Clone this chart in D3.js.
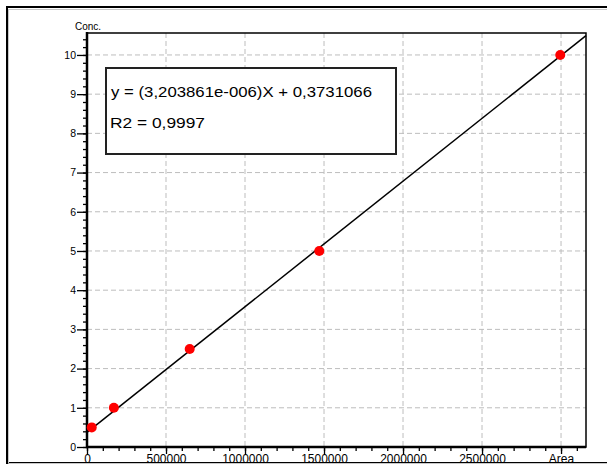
<!DOCTYPE html>
<html>
<head>
<meta charset="utf-8">
<script src="https://cdn.jsdelivr.net/npm/d3@7"></script>
<style>
  body { margin: 0; background: #fff; }
  svg { display: block; }
  text { font-family: "Liberation Sans", Arial, sans-serif; fill: #000; }
</style>
</head>
<body>
<svg width="607" height="466"></svg>
<script>
// calibration points
var areas = [30000, 170000, 650000, 1470000, 2995000];
var concs = [0.5, 1, 2.5, 5, 10];
var slope = 3.203861e-6, intercept = 0.3731066;
var xTicks = [0, 500000, 1000000, 1500000, 2000000, 2500000];
var yTicks = [0, 1, 2, 3, 4, 5, 6, 7, 8, 9, 10];
var eqLines = ["y = (3,203861e-006)X + 0,3731066", "R2 = 0,9997"];

var svg = d3.select("svg"),
  margin = {top: 33, right: 21, bottom: 19, left: 87},
  width = +svg.attr("width") - margin.left - margin.right,
  height = +svg.attr("height") - margin.top - margin.bottom;

// outer panel frame
svg.append("rect").attr("x", 7).attr("y", 7).attr("width", 640).attr("height", 456)
  .attr("fill", "none").attr("stroke", "#000").attr("stroke-width", 2);
svg.append("path").attr("d", "M9,9.5H607M8.5,9V463.5H607")
  .attr("fill", "none").attr("stroke", "#c8c8c8");

var g = svg.append("g").attr("transform", "translate(" + margin.left + "," + margin.top + ")");

var x = d3.scaleLinear().domain([0, 3158000]).range([0, width]);
var y = d3.scaleLinear().domain([0, 10.56]).range([height, 0]);

// dashed grid
g.append("g").selectAll("line").data(xTicks.slice(1).concat([3000000])).enter().append("line")
  .attr("x1", d => x(d)).attr("x2", d => x(d)).attr("y1", 0).attr("y2", height)
  .attr("stroke", "#bdbdbd").attr("stroke-dasharray", "5,3");
g.append("g").selectAll("line").data(yTicks.slice(1)).enter().append("line")
  .attr("y1", d => y(d)).attr("y2", d => y(d)).attr("x1", 0).attr("x2", width)
  .attr("stroke", "#bdbdbd").attr("stroke-dasharray", "5,3");

// frame of plot area
g.append("rect").attr("width", width).attr("height", height)
  .attr("fill", "none").attr("stroke", "#000").attr("stroke-width", 1.5);

// x axis: minor + major ticks
var xAxisMinor = d3.axisBottom(x).tickValues(d3.range(0, 3150001, 100000))
  .tickSize(4).tickFormat("");
var xAxisMajor = d3.axisBottom(x).tickValues(xTicks.concat([3000000])).tickSize(7)
  .tickFormat(d => d === 3000000 ? "Area" : d);
var gxm = g.append("g").attr("transform", "translate(0," + height + ")").call(xAxisMinor);
var gx = g.append("g").attr("transform", "translate(0," + height + ")").call(xAxisMajor);
[gxm, gx].forEach(a => { a.select(".domain").remove(); a.selectAll("line").attr("stroke", "#000").attr("stroke-width", 1.3); });
gx.selectAll("text").attr("y", 7).attr("font-size", 12).style("font-family", "Liberation Sans, Arial, sans-serif");

// y axis: minor + major ticks
var yAxisMinor = d3.axisLeft(y).tickValues(d3.range(0, 10.41, 0.2)).tickSize(4).tickFormat("");
var yAxisMajor = d3.axisLeft(y).tickValues(yTicks).tickSize(10).tickFormat(d => d);
var gym = g.append("g").call(yAxisMinor);
var gy = g.append("g").call(yAxisMajor);
[gym, gy].forEach(a => { a.select(".domain").remove(); a.selectAll("line").attr("stroke", "#000").attr("stroke-width", 1.3); });
gy.selectAll("text").attr("x", -11).attr("font-size", 10.5).style("font-family", "Liberation Sans, Arial, sans-serif");

// axes lines, heavier
g.append("path").attr("d", "M0,-1V" + height + "H" + width)
  .attr("fill", "none").attr("stroke", "#000").attr("stroke-width", 2.5);

g.append("text").attr("x", -12).attr("y", -3).attr("font-size", 10).text("Conc.");

// regression line
var line = d3.line().x(d => x(d)).y(d => y(slope * d + intercept));
g.append("path").datum([0, x.domain()[1]]).attr("d", line)
  .attr("fill", "none").attr("stroke", "#000").attr("stroke-width", 1.5);

// points
g.append("g").selectAll("circle").data(areas).enter().append("circle")
  .attr("cx", d => x(d)).attr("cy", (d, i) => y(concs[i])).attr("r", 5).attr("fill", "#f00");

// equation box
svg.append("rect").attr("x", 106).attr("y", 68).attr("width", 290).attr("height", 86)
  .attr("fill", "#fff").attr("stroke", "#222").attr("stroke-width", 2);
svg.append("text").attr("x", 111).attr("y", 97).attr("font-size", 15)
  .attr("textLength", 261).attr("lengthAdjust", "spacingAndGlyphs").text(eqLines[0]);
svg.append("text").attr("x", 110).attr("y", 128).attr("font-size", 15)
  .attr("textLength", 95).attr("lengthAdjust", "spacingAndGlyphs").text(eqLines[1]);
</script>
</body>
</html>
